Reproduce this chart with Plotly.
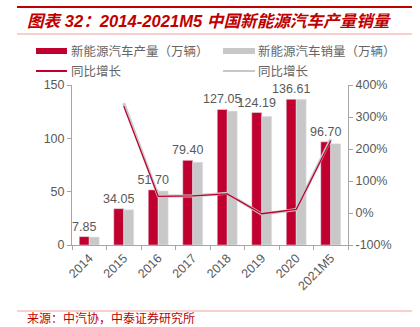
import plotly.graph_objects as go

categories = ["2014", "2015", "2016", "2017", "2018", "2019", "2020", "2021M5"]
production = [7.85, 34.05, 51.70, 79.40, 127.05, 124.19, 136.61, 96.70]
sales = [7.48, 33.1, 50.7, 77.7, 125.6, 120.6, 136.7, 95.0]
prod_growth = [None, 334, 51.7, 53.8, 59.9, -2.3, 11, 226]
sales_growth = [None, 343, 53, 53.3, 61.7, -4, 10.9, 231]

left_ticks = [0, 50, 100, 150]
right_ticks = [-100, 0, 100, 200, 300, 400]
right_tick_text = ["-100%", "0%", "100%", "200%", "300%", "400%"]

RED = "#C0002F"
GRAY = "#C8C8C8"
TXT = "#595959"
FONT = "Liberation Sans, Noto Sans CJK SC, sans-serif"

fig = go.Figure()
fig.add_bar(x=categories, y=production, name="新能源汽车产量（万辆）", marker_color=RED,
            text=[f"{v:.2f}" for v in production], textposition="outside",
            textfont=dict(size=12.5, color=TXT, family=FONT), cliponaxis=False)
fig.add_bar(x=categories, y=sales, name="新能源汽车销量（万辆）", marker_color=GRAY)
fig.add_scatter(x=categories, y=sales_growth, yaxis="y2", mode="lines",
                line=dict(color=GRAY, width=3), name="同比增长", connectgaps=False)
fig.add_scatter(x=categories, y=prod_growth, yaxis="y2", mode="lines",
                line=dict(color=RED, width=1.3), name="同比增长", connectgaps=False)

axis_common = dict(showgrid=False, zeroline=False, linecolor="#A6A6A6", linewidth=1,
                   ticks="outside", ticklen=4, tickcolor="#A6A6A6",
                   tickfont=dict(size=12.5, color=TXT, family=FONT))

fig.update_layout(
    width=420, height=327,
    margin=dict(l=72, r=72, t=85, b=82),
    paper_bgcolor="white", plot_bgcolor="white",
    barmode="group", bargap=0.42, bargroupgap=0,
    showlegend=False,
    uniformtext=dict(minsize=12, mode="show"),
    font=dict(family=FONT, color=TXT),
    xaxis=dict(**axis_common, tickangle=-45, tickson="boundaries", showline=True),
    yaxis=dict(**axis_common, range=[0, 150], tickvals=left_ticks, showline=True),
    yaxis2=dict(**axis_common, range=[-100, 400], tickvals=right_ticks, ticktext=right_tick_text,
                overlaying="y", side="right", showline=True),
)

shapes = []
def hline(x0, x1, y, color, width):
    shapes.append(dict(type="line", xref="paper", yref="paper",
                       x0=(x0 - 72) / 276, x1=(x1 - 72) / 276,
                       y0=(245 - y) / 160, y1=(245 - y) / 160,
                       line=dict(color=color, width=width)))

def rect(x0, x1, y0, y1, color):
    shapes.append(dict(type="rect", xref="paper", yref="paper",
                       x0=(x0 - 72) / 276, x1=(x1 - 72) / 276,
                       y0=(245 - y1) / 160, y1=(245 - y0) / 160,
                       fillcolor=color, line=dict(width=0)))

hline(17, 412, 7, "#C00000", 2)
hline(17, 412, 34, "#F0A0A0", 1)
hline(17, 412, 311, "#F0A0A0", 1)
rect(36, 67, 48, 54, RED)
rect(223, 255, 48, 54, GRAY)
hline(36, 67, 71, RED, 2)
hline(223, 255, 71, GRAY, 2)

annotations = []
def text(x, y, s, size, color, xanchor="left"):
    annotations.append(dict(xref="paper", yref="paper", x=(x - 72) / 276, y=(245 - y) / 160,
                            text=s, showarrow=False, xanchor=xanchor, yanchor="middle",
                            font=dict(size=size, color=color, family=FONT)))

text(25, 22, "<b><i>图表 32：2014-2021M5 中国新能源汽车产量销量</i></b>", 16.6, "#C00000")
text(69, 51, "新能源汽车产量（万辆）", 12.5, "#666666")
text(256, 51, "新能源汽车销量（万辆）", 12.5, "#666666")
text(69, 71, "同比增长", 12.5, "#666666")
text(256, 71, "同比增长", 12.5, "#666666")
text(25, 318, "来源：中汽协，中泰证券研究所", 12, "#C00000")

fig.update_layout(shapes=shapes, annotations=annotations)
fig.write_html("out.html")
